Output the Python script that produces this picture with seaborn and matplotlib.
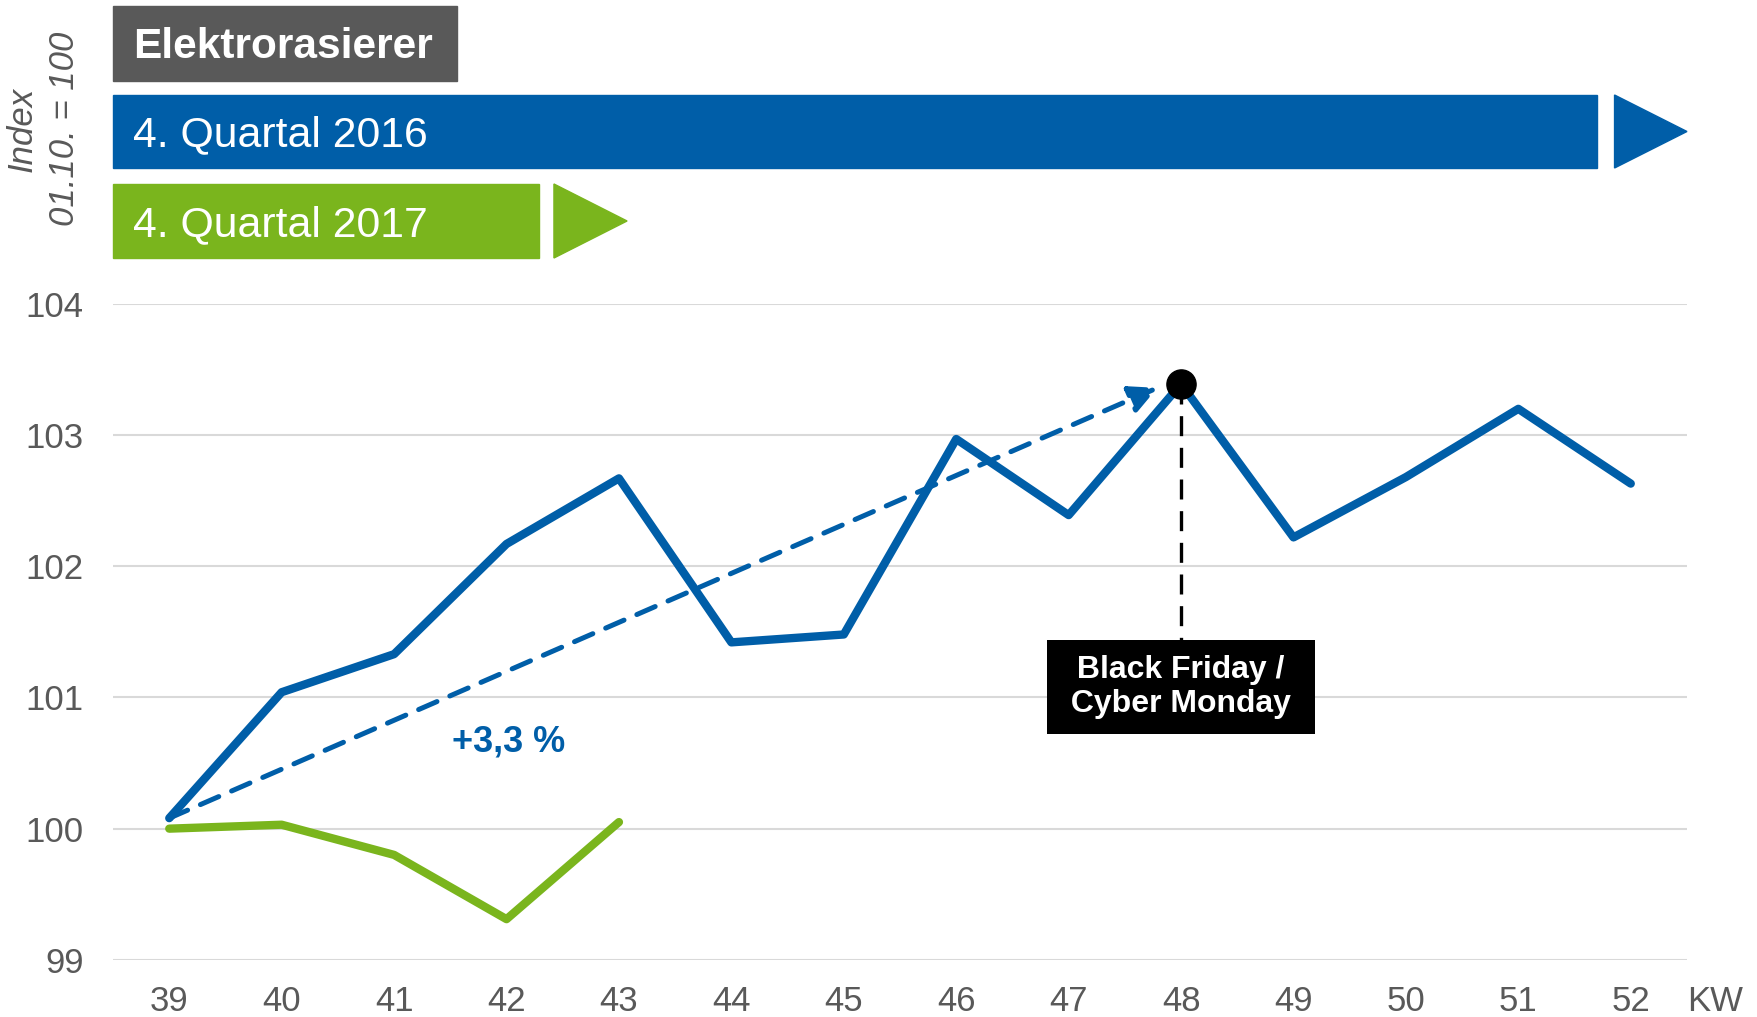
import numpy as np
import pandas as pd
import matplotlib
matplotlib.use("Agg")
import matplotlib.pyplot as plt
import seaborn as sns
from matplotlib.patches import Rectangle, Polygon

# ---------------- data ----------------
weeks_2016 = [39, 40, 41, 42, 43, 44, 45, 46, 47, 48, 49, 50, 51, 52]
index_2016 = [100.08, 101.04, 101.33, 102.17, 102.67, 101.42, 101.48,
              102.97, 102.39, 103.39, 102.22, 102.68, 103.20, 102.63]
weeks_2017 = [39, 40, 41, 42, 43]
index_2017 = [100.00, 100.03, 99.80, 99.31, 100.05]
y_ticks = [99, 100, 101, 102, 103, 104]
x_ticks = weeks_2016
title = "Elektrorasierer"
series_labels = ["4. Quartal 2016", "4. Quartal 2017"]
growth_label = "+3,3 %"
event_label = " Black Friday / \n Cyber Monday "
event_week = 48
y_label = "Index\n01.10. = 100"
x_unit = "KW"

BLUE = "#005EA8"
GREEN = "#7AB51D"
GRAY = "#595959"
GRID = "#D9D9D9"

df = pd.concat([
    pd.DataFrame({"KW": weeks_2016, "Index": index_2016, "Serie": series_labels[0]}),
    pd.DataFrame({"KW": weeks_2017, "Index": index_2017, "Serie": series_labels[1]}),
])

sns.set_theme(style="white")
plt.rcParams['font.family'] = ['Liberation Sans', 'DejaVu Sans']

fig = plt.figure(figsize=(17.58, 10.17), dpi=100)
ax = fig.add_axes([0.0643, 0.0562, 0.8953, 0.645])

sns.lineplot(data=df, x="KW", y="Index", hue="Serie",
             palette={series_labels[0]: BLUE, series_labels[1]: GREEN},
             linewidth=6, legend=False, ax=ax, zorder=3)
for ln in ax.lines:
    ln.set_solid_capstyle("round")
    ln.set_solid_joinstyle("round")

# peak marker
peak_idx = weeks_2016.index(event_week)
peak_val = index_2016[peak_idx]
ax.plot([event_week], [peak_val], "o", color="black", ms=21, zorder=6)

# dashed growth arrow
ax.annotate("", xy=(event_week - 0.21, peak_val - 0.03),
            xytext=(weeks_2016[0], index_2016[0]),
            arrowprops=dict(arrowstyle="-|>,head_length=0.6,head_width=0.3",
                            color=BLUE, lw=3.6, linestyle=(0, (4, 2.8)),
                            mutation_scale=28, shrinkA=0, shrinkB=0),
            zorder=4)
ax.text(42.02, 100.66, growth_label, color=BLUE, fontweight="bold",
        fontsize=26, ha="center", va="center")

# black friday marker
ax.plot([event_week, event_week], [peak_val, 101.44], color="black",
        lw=2.4, ls=(0, (6, 3.5)), zorder=5)
ax.text(event_week, 101.08, event_label, ha="center", va="center",
        color="white", fontweight="bold", fontsize=23, linespacing=1.15,
        bbox=dict(boxstyle="square,pad=0.47", fc="black", ec="none"), zorder=7)

# axes styling
ax.set_xlim(38.5, 52.5)
ax.set_ylim(99, 104)
ax.set_xticks(x_ticks)
ax.set_yticks(y_ticks)
ax.set_xlabel("")
ax.set_ylabel("")
ax.grid(axis="y", color=GRID, lw=1.5)
ax.grid(axis="x", visible=False)
ax.set_axisbelow(True)
sns.despine(ax=ax, left=True, bottom=True)
ax.tick_params(axis="both", length=0, labelsize=25, labelcolor=GRAY)
ax.tick_params(axis="x", pad=18)
ax.tick_params(axis="y", pad=21)

fig.text(0.9755, 0.0155, x_unit, ha="center", va="center", fontsize=25, color=GRAY)
fig.text(0.0245, 0.873, y_label, rotation=90, ha="center", va="center",
         style="italic", fontsize=25, color=GRAY, linespacing=1.35,
         multialignment="center")

# header banners
TXT_DY = 0.004
fig.add_artist(Rectangle((0.0643, 0.9207), 0.1957, 0.0738,
                         transform=fig.transFigure, color=GRAY))
fig.text(0.0759, 0.9576 - TXT_DY, title, color="white", fontweight="bold",
         fontsize=30.5, ha="left", va="center")

fig.add_artist(Rectangle((0.0643, 0.8348), 0.8441, 0.0718,
                         transform=fig.transFigure, color=BLUE))
fig.add_artist(Polygon([(0.9184, 0.9066), (0.9184, 0.8348), (0.9596, 0.8707)],
                       closed=True, transform=fig.transFigure, color=BLUE))
fig.text(0.0759, 0.8707 - TXT_DY, series_labels[0], color="white",
         fontsize=30.8, ha="left", va="center")

fig.add_artist(Rectangle((0.0643, 0.7463), 0.2423, 0.0728,
                         transform=fig.transFigure, color=GREEN))
fig.add_artist(Polygon([(0.3151, 0.8191), (0.3151, 0.7463), (0.3567, 0.7827)],
                       closed=True, transform=fig.transFigure, color=GREEN))
fig.text(0.0759, 0.7827 - TXT_DY, series_labels[1], color="white",
         fontsize=30.8, ha="left", va="center")

fig.savefig("out.png", dpi=100)
